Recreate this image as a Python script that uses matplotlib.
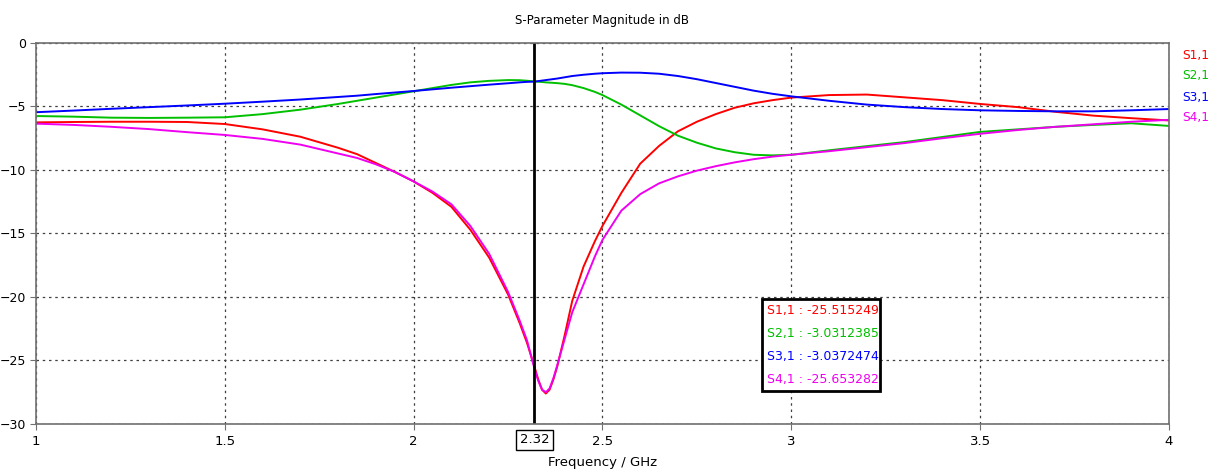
import matplotlib
matplotlib.use('Agg')
from matplotlib import pyplot as plt
from matplotlib.patches import Rectangle
from matplotlib.transforms import blended_transform_factory

# frequences (GHz)
freq = [1.0, 1.1, 1.2, 1.3, 1.4, 1.5, 1.6, 1.7, 1.8, 1.85, 1.9, 1.95, 2.0, 2.05, 2.1,
        2.15, 2.2, 2.25, 2.28, 2.3, 2.32, 2.33, 2.34, 2.35, 2.36, 2.37, 2.38, 2.4, 2.42,
        2.45, 2.48, 2.5, 2.55, 2.6, 2.65, 2.7, 2.75, 2.8, 2.85, 2.9, 2.95, 3.0, 3.1,
        3.2, 3.3, 3.4, 3.5, 3.6, 3.7, 3.8, 3.9, 4.0]

s11 = [-6.25, -6.22, -6.2, -6.2, -6.22, -6.38, -6.8, -7.38, -8.25, -8.75, -9.45, -10.15,
       -10.9, -11.8, -12.9, -14.7, -16.9, -19.8, -22.0, -23.6, -25.5, -26.5, -27.3, -27.6,
       -27.3, -26.5, -25.5, -23.0, -20.3, -17.6, -15.6, -14.4, -11.8, -9.5, -8.1, -6.95,
       -6.2, -5.6, -5.1, -4.75, -4.5, -4.3, -4.1, -4.06, -4.28, -4.5, -4.8, -5.05, -5.42,
       -5.72, -5.92, -6.1]
s21 = [-5.75, -5.8, -5.88, -5.9, -5.88, -5.85, -5.6, -5.25, -4.8, -4.55, -4.3, -4.05,
       -3.8, -3.55, -3.3, -3.1, -2.98, -2.92, -2.93, -2.97, -3.03, -3.05, -3.07, -3.1,
       -3.12, -3.14, -3.16, -3.22, -3.32, -3.55, -3.85, -4.1, -4.85, -5.7, -6.55, -7.3,
       -7.85, -8.3, -8.6, -8.8, -8.85, -8.8, -8.45, -8.12, -7.8, -7.4, -7.0, -6.8, -6.6,
       -6.45, -6.32, -6.53]
s31 = [-5.45, -5.32, -5.18, -5.05, -4.92, -4.78, -4.62, -4.45, -4.25, -4.15, -4.02, -3.9,
       -3.78, -3.65, -3.52, -3.4, -3.28, -3.17, -3.1, -3.06, -3.04, -3.0, -2.96, -2.92,
       -2.88, -2.84, -2.8, -2.7, -2.6, -2.5, -2.42, -2.38, -2.33, -2.34, -2.42, -2.6,
       -2.85, -3.15, -3.45, -3.75, -4.0, -4.2, -4.55, -4.85, -5.05, -5.2, -5.3, -5.35,
       -5.38, -5.38, -5.3, -5.2]
s41 = [-6.35, -6.45, -6.6, -6.78, -7.02, -7.24, -7.55, -8.0, -8.7, -9.05, -9.55, -10.15,
       -10.9, -11.7, -12.7, -14.4, -16.6, -19.6, -21.8, -23.4, -25.65, -26.6, -27.3, -27.5,
       -27.2, -26.4, -25.4, -23.3, -21.2, -19.0, -16.8, -15.5, -13.2, -11.9, -11.05, -10.5,
       -10.05, -9.7, -9.4, -9.15, -8.95, -8.8, -8.52, -8.2, -7.88, -7.5, -7.15, -6.85,
       -6.6, -6.4, -6.2, -6.05]

names = ['S1,1', 'S2,1', 'S3,1', 'S4,1']
marker_vals = ['-25.515249', '-3.0312385', '-3.0372474', '-25.653282']
colors = ['#ff0000', '#00c000', '#0000ff', '#f000f0']
marker_f = 2.32

xticks = [1, 1.5, 2, 2.5, 3, 3.5, 4]
yticks = [0, -5, -10, -15, -20, -25, -30]

plt.rcParams['font.family'] = ['DejaVu Sans']
fig = plt.figure(figsize=(12.11, 4.72), dpi=100)
ax = fig.add_axes([0.0297, 0.1017, 0.9356, 0.8072])

for vals, c in zip([s11, s21, s31, s41], colors):
    ax.plot(freq, vals, color=c, lw=1.4)

ax.axvline(marker_f, color='black', lw=2)

ax.set_xlim(1, 4)
ax.set_ylim(-30, 0)
ax.set_xticks(xticks)
ax.set_xticklabels([('%g' % t) for t in xticks])
ax.set_yticks(yticks)
ax.grid(True, color='#404040', linestyle=(0, (2, 3)), lw=0.9)
for s in ax.spines.values():
    s.set_color('#707070')
    s.set_linewidth(1.2)
ax.tick_params(axis='x', labelsize=9.5, length=4, color='#707070', pad=4)
ax.tick_params(axis='y', labelsize=9, length=4, color='#707070', pad=3)

ax.set_title('S-Parameter Magnitude in dB', fontsize=8.5, pad=14)
ax.set_xlabel('Frequency / GHz', fontsize=9.5, labelpad=6)

# etiquette du marqueur sous l'axe
tr = blended_transform_factory(ax.transData, ax.transAxes)
ax.text(marker_f, -0.042, '2.32', transform=tr, ha='center', va='center', fontsize=9.5,
        bbox=dict(boxstyle='square,pad=0.25', fc='white', ec='black', lw=1))

# boite des valeurs du marqueur
ax.add_patch(Rectangle((0.641, 0.0866), 0.104, 0.2414, transform=ax.transAxes,
                       fc='white', ec='black', lw=2, zorder=5))
for i, (n, v, c) in enumerate(zip(names, marker_vals, colors)):
    ax.text(0.645, 0.297 - i * 0.0597, n + ' : ' + v, transform=ax.transAxes,
            color=c, fontsize=9, va='center', ha='left', zorder=6)

# legende a droite
for i, (n, c) in enumerate(zip(names, colors)):
    fig.text(1182 / 1211, 1 - (55 + i * 21) / 472, n, color=c, fontsize=8.8,
             va='center', ha='left')

fig.savefig('out.png', dpi=100)
